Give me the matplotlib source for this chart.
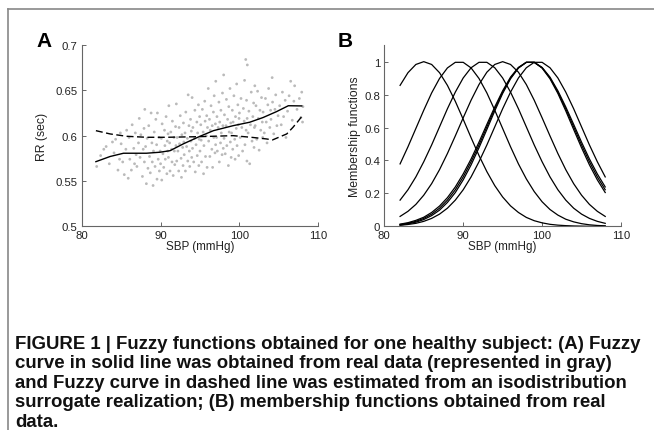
import matplotlib
matplotlib.use("Agg")
import matplotlib.pyplot as plt
from matplotlib.lines import Line2D

plt.rcParams['font.family'] = ['Liberation Sans', 'DejaVu Sans']

# panel A: real data cloud (SBP in mmHg, RR in sec)
scatter_sbp = [
    81.9, 82.4, 82.8,
    83.1, 83.5, 83.9,
    84.1, 84.3, 84.6, 84.8, 84.9,
    85.0, 85.2, 85.4, 85.6, 85.7, 85.9,
    86.0, 86.1, 86.3, 86.4, 86.6, 86.7, 86.8, 86.9,
    87.0, 87.2, 87.3, 87.4, 87.5, 87.7, 87.8, 87.9, 87.95,
    88.0, 88.1, 88.2, 88.3, 88.4, 88.5, 88.6, 88.7, 88.8, 88.9, 88.95,
    89.05, 89.1, 89.2, 89.3, 89.4, 89.5, 89.55, 89.6, 89.7, 89.8, 89.85, 89.95,
    90.0, 90.1, 90.15, 90.2, 90.3, 90.4, 90.5, 90.55, 90.6, 90.7, 90.8, 90.85, 90.9, 90.95,
    91.0, 91.05, 91.15, 91.2, 91.3, 91.4, 91.45, 91.5, 91.6, 91.7, 91.75, 91.8, 91.9, 91.95,
    92.0, 92.05, 92.1, 92.2, 92.3, 92.35, 92.4, 92.5, 92.6, 92.65, 92.7, 92.8, 92.85, 92.9, 92.95,
    93.0, 93.1, 93.15, 93.2, 93.3, 93.4, 93.45, 93.5, 93.6, 93.65, 93.7, 93.8, 93.85, 93.9, 93.95,
    94.0, 94.05, 94.1, 94.2, 94.3, 94.35, 94.4, 94.5, 94.6, 94.65, 94.7, 94.8, 94.85, 94.9, 94.95,
    95.0, 95.1, 95.15, 95.2, 95.3, 95.4, 95.45, 95.5, 95.6, 95.65, 95.7, 95.8, 95.85, 95.9, 95.95,
    96.05, 96.1, 96.2, 96.25, 96.3, 96.4, 96.5, 96.55, 96.6, 96.7, 96.75, 96.8, 96.9, 96.95, 96.98,
    97.0, 97.1, 97.15, 97.2, 97.3, 97.4, 97.45, 97.5, 97.6, 97.65, 97.7, 97.8, 97.85, 97.9, 97.95,
    98.0, 98.05, 98.1, 98.2, 98.3, 98.35, 98.4, 98.5, 98.6, 98.65, 98.7, 98.8, 98.85, 98.9, 98.95,
    99.0, 99.1, 99.15, 99.2, 99.3, 99.4, 99.45, 99.5, 99.6, 99.65, 99.7, 99.8, 99.85, 99.9, 99.95,
    100.0, 100.1, 100.2, 100.3, 100.4, 100.5, 100.6, 100.65, 100.7, 100.8, 100.85, 100.9, 100.95, 100.98,
    101.0, 101.1, 101.2, 101.3, 101.4, 101.5, 101.6, 101.7, 101.8, 101.85, 101.9, 101.95,
    102.0, 102.1, 102.2, 102.3, 102.4, 102.5, 102.6, 102.7, 102.8, 102.9, 102.95,
    103.0, 103.15, 103.3, 103.4, 103.5, 103.6, 103.7, 103.85, 103.95,
    104.0, 104.15, 104.2, 104.35, 104.5, 104.6, 104.75, 104.9,
    105.1, 105.3, 105.45, 105.6, 105.8, 105.9,
    106.1, 106.3, 106.5, 106.7, 106.9,
    107.0, 107.3, 107.6, 107.8,
    107.9, 108.0, 108.05,
]
scatter_rr = [
    0.566, 0.578, 0.585,
    0.588, 0.569, 0.593,
    0.581, 0.596, 0.562, 0.574, 0.603,
    0.591, 0.571, 0.557, 0.585, 0.606, 0.553,
    0.598, 0.574, 0.562, 0.612, 0.586, 0.569, 0.603, 0.579,
    0.566, 0.592, 0.619, 0.576, 0.601, 0.555, 0.585, 0.608, 0.571,
    0.629, 0.588, 0.547, 0.597, 0.564, 0.611, 0.577, 0.559, 0.625, 0.592, 0.571,
    0.545, 0.583, 0.604, 0.566, 0.618, 0.590, 0.552, 0.625, 0.574, 0.598, 0.561, 0.583,
    0.569, 0.597, 0.551, 0.613, 0.580, 0.565, 0.606, 0.589, 0.574, 0.621, 0.558, 0.594, 0.583, 0.602,
    0.576, 0.633, 0.592, 0.561, 0.604, 0.585, 0.571, 0.616, 0.556, 0.598, 0.583, 0.568, 0.610, 0.589,
    0.635, 0.572, 0.598, 0.583, 0.561, 0.609, 0.591, 0.622, 0.575, 0.554, 0.601, 0.587, 0.567, 0.614, 0.593,
    0.579, 0.603, 0.561, 0.626, 0.588, 0.597, 0.572, 0.645, 0.611, 0.583, 0.566, 0.618, 0.594, 0.605, 0.576,
    0.642, 0.586, 0.609, 0.571, 0.597, 0.628, 0.560, 0.590, 0.615, 0.578, 0.603, 0.634, 0.567, 0.596, 0.621,
    0.583, 0.612, 0.595, 0.571, 0.629, 0.604, 0.558, 0.589, 0.638, 0.616, 0.577, 0.600, 0.622, 0.565, 0.609,
    0.652, 0.594, 0.618, 0.577, 0.606, 0.633, 0.585, 0.611, 0.565, 0.626, 0.598, 0.644, 0.581, 0.613, 0.590,
    0.660, 0.598, 0.621, 0.583, 0.609, 0.637, 0.571, 0.615, 0.592, 0.628, 0.603, 0.579, 0.647, 0.611, 0.586,
    0.667, 0.597, 0.623, 0.580, 0.611, 0.640, 0.589, 0.618, 0.567, 0.632, 0.604, 0.652, 0.593, 0.614, 0.576,
    0.603, 0.628, 0.585, 0.615, 0.644, 0.596, 0.574, 0.621, 0.608, 0.657, 0.589, 0.634, 0.612, 0.578, 0.619,
    0.625, 0.598, 0.641, 0.609, 0.583, 0.630, 0.616, 0.661, 0.590, 0.684, 0.606, 0.639, 0.572, 0.619,
    0.678, 0.603, 0.627, 0.569, 0.612, 0.648, 0.594, 0.621, 0.636, 0.587, 0.609, 0.655,
    0.611, 0.633, 0.596, 0.649, 0.619, 0.584, 0.628, 0.606, 0.642, 0.615, 0.598,
    0.626, 0.603, 0.641, 0.615, 0.592, 0.634, 0.652, 0.609, 0.628,
    0.618, 0.664, 0.637, 0.602, 0.629, 0.645, 0.611, 0.622,
    0.633, 0.612, 0.648, 0.621, 0.639, 0.598,
    0.627, 0.644, 0.660, 0.617, 0.638,
    0.655, 0.629, 0.641, 0.620,
    0.648, 0.615, 0.632,
]

# fuzzy curve from real data (solid)
fuzzy_real_sbp = [81.8, 83.6, 85.3, 88.2, 89.9, 91.2, 92.9, 95.0, 96.7, 99.2, 101.3, 103.0, 104.7, 106.2, 107.9]
fuzzy_real_rr = [0.5713, 0.577, 0.5806, 0.5806, 0.5817, 0.5834, 0.591, 0.5993, 0.6055, 0.611, 0.6148, 0.620, 0.6265, 0.633, 0.6328]

# fuzzy curve from surrogate (dashed)
fuzzy_surr_sbp = [81.8, 83.6, 85.7, 88.2, 90.8, 95.0, 99.2, 101.7, 103.4, 104.2, 106.0, 106.8, 107.9]
fuzzy_surr_rr = [0.6055, 0.6019, 0.5993, 0.5982, 0.5982, 0.5989, 0.600, 0.598, 0.5964, 0.5953, 0.6019, 0.6093, 0.621]

# panel B: membership functions sampled every 1 mmHg from 82 to 108
mf_sbp = list(range(82, 109))
mf_1 = [0.856, 0.933, 0.983, 1.0, 0.983, 0.933, 0.856, 0.759, 0.650, 0.538, 0.430, 0.332, 0.247, 0.178,
        0.124, 0.084, 0.054, 0.034, 0.021, 0.012, 0.007, 0.004, 0.002, 0.001, 0.0, 0.0, 0.0]
mf_2 = [0.379, 0.483, 0.594, 0.705, 0.810, 0.898, 0.962, 0.996, 0.996, 0.962, 0.898, 0.810, 0.705, 0.594,
        0.483, 0.379, 0.288, 0.211, 0.149, 0.102, 0.068, 0.043, 0.027, 0.016, 0.009, 0.005, 0.003]
mf_3 = [0.159, 0.222, 0.300, 0.392, 0.494, 0.604, 0.714, 0.815, 0.901, 0.963, 0.996, 0.996, 0.963, 0.901,
        0.815, 0.714, 0.604, 0.494, 0.392, 0.300, 0.222, 0.159, 0.110, 0.074, 0.048, 0.030, 0.018]
mf_4 = [0.060, 0.091, 0.133, 0.189, 0.259, 0.344, 0.442, 0.549, 0.659, 0.766, 0.861, 0.936, 0.983, 1.0,
        0.983, 0.936, 0.861, 0.766, 0.659, 0.549, 0.442, 0.344, 0.259, 0.189, 0.133, 0.091, 0.060]
mf_5 = [0.011, 0.018, 0.030, 0.048, 0.074, 0.110, 0.159, 0.222, 0.300, 0.392, 0.494, 0.604, 0.714, 0.815,
        0.901, 0.963, 0.996, 0.996, 0.963, 0.901, 0.815, 0.714, 0.604, 0.494, 0.392, 0.300, 0.222]
mf_6 = [0.013, 0.022, 0.036, 0.055, 0.084, 0.123, 0.174, 0.239, 0.318, 0.409, 0.511, 0.619, 0.725, 0.823,
        0.906, 0.965, 0.996, 0.996, 0.965, 0.906, 0.823, 0.725, 0.619, 0.511, 0.409, 0.318, 0.239]
mf_7 = [0.008, 0.015, 0.025, 0.041, 0.065, 0.098, 0.145, 0.205, 0.282, 0.373, 0.477, 0.588, 0.701, 0.807,
        0.896, 0.961, 0.996, 0.996, 0.961, 0.896, 0.807, 0.701, 0.588, 0.477, 0.373, 0.282, 0.205]
mf_8 = [0.006, 0.011, 0.018, 0.030, 0.048, 0.074, 0.110, 0.159, 0.222, 0.300, 0.392, 0.494, 0.604, 0.714,
        0.815, 0.901, 0.963, 0.996, 0.996, 0.963, 0.901, 0.815, 0.714, 0.604, 0.494, 0.392, 0.300]

caption_lines = [
    "FIGURE 1 | Fuzzy functions obtained for one healthy subject: (A) Fuzzy",
    "curve in solid line was obtained from real data (represented in gray)",
    "and Fuzzy curve in dashed line was estimated from an isodistribution",
    "surrogate realization; (B) membership functions obtained from real",
    "data.",
]

W, H = 654, 431
fig = plt.figure(figsize=(W / 100, H / 100), dpi=100)

def style_axes(ax):
    ax.spines['top'].set_visible(False)
    ax.spines['right'].set_visible(False)
    for s in ['left', 'bottom']:
        ax.spines[s].set_color('#666666')
        ax.spines[s].set_linewidth(0.8)
    ax.tick_params(direction='in', length=3, width=0.7, color='#666666',
                   labelsize=8.2, labelcolor='#222222')
    ax.tick_params(axis='x', pad=2.5)
    ax.tick_params(axis='y', pad=3)

# panel A
axA = fig.add_axes([81.7 / W, 1 - 227.3 / H, 236.6 / W, 181.3 / H])
axA.scatter(scatter_sbp, scatter_rr, s=4, color='#bababa', edgecolors='none', zorder=1)
axA.plot(fuzzy_real_sbp, fuzzy_real_rr, color='black', lw=1.0, zorder=3)
axA.plot(fuzzy_surr_sbp, fuzzy_surr_rr, color='black', lw=1.0, dashes=(5, 2.5), zorder=3)
axA.set_xlim(80, 110)
axA.set_ylim(0.5, 0.7)
axA.set_xticks([80, 90, 100, 110])
axA.set_yticks([0.5, 0.55, 0.6, 0.65, 0.7])
axA.set_yticklabels(['0.5', '0.55', '0.6', '0.65', '0.7'])
axA.set_xlabel('SBP (mmHg)', fontsize=8.4, color='#222222', labelpad=0)
axA.set_ylabel('RR (sec)', fontsize=8.8, color='#222222', labelpad=5)
style_axes(axA)

# panel B
axB = fig.add_axes([384.3 / W, 1 - 227.3 / H, 236.7 / W, 181.1 / H])
for mf in [mf_1, mf_2, mf_3, mf_4, mf_5, mf_6, mf_7, mf_8]:
    axB.plot(mf_sbp, mf, color='black', lw=0.9)
axB.set_xlim(80, 110)
axB.set_ylim(0, 1.1)
axB.set_xticks([80, 90, 100, 110])
axB.set_yticks([0, 0.2, 0.4, 0.6, 0.8, 1])
axB.set_yticklabels(['0', '0.2', '0.4', '0.6', '0.8', '1'])
axB.set_xlabel('SBP (mmHg)', fontsize=8.4, color='#222222', labelpad=0)
axB.set_ylabel('Membership functions', fontsize=8.8, color='#222222', labelpad=2)
style_axes(axB)

# panel letters
fig.text(36 / W, 1 - 47 / H, 'A', fontsize=15, fontweight='bold', ha='left', va='baseline')
fig.text(338 / W, 1 - 47 / H, 'B', fontsize=15, fontweight='bold', ha='left', va='baseline')

# caption, one line at a time
for i, line in enumerate(caption_lines):
    fig.text(15 / W, 1 - (349 + 19.5 * i) / H, line, fontsize=13.4, fontweight='bold',
             ha='left', va='baseline', color='#111111')

# outer frame (left and top edges)
fig.add_artist(Line2D([8 / W, 8 / W], [0, 1 - 10 / H], color='#888888', lw=1.2))
fig.add_artist(Line2D([8 / W, 1], [1 - 10 / H, 1 - 10 / H], color='#888888', lw=1.2))

fig.savefig('out.png', dpi=100)
